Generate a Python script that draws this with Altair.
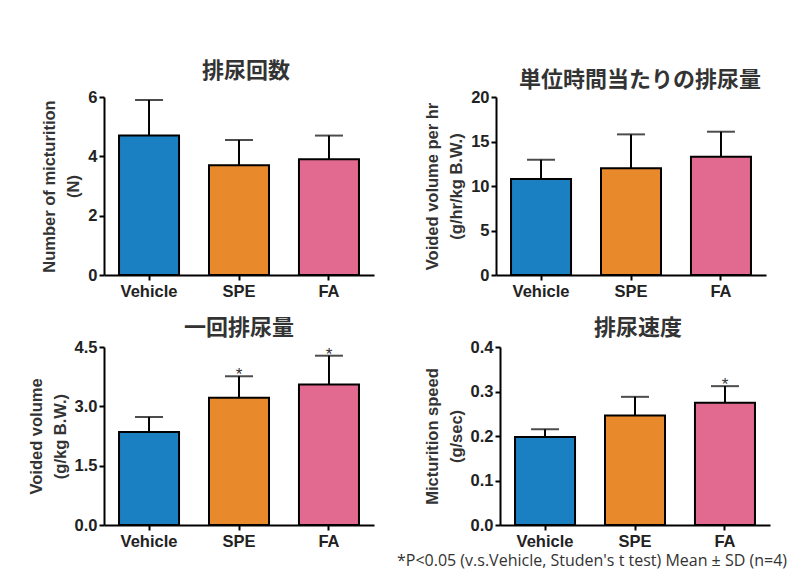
import altair as alt
import pandas as pd

groups = ["Vehicle", "SPE", "FA"]
colors = ["#1a80c2", "#e8892c", "#e2698f"]

count_mean = [4.7, 3.7, 3.9]
count_sd = [1.2, 0.85, 0.8]
rate_mean = [10.8, 12.0, 13.3]
rate_sd = [2.15, 3.8, 2.8]
vol_mean = [2.35, 3.22, 3.55]
vol_sd = [0.38, 0.54, 0.73]
speed_mean = [0.198, 0.246, 0.275]
speed_sd = [0.017, 0.042, 0.037]

count_sig = ["", "", ""]
rate_sig = ["", "", ""]
vol_sig = ["", "*", "*"]
speed_sig = ["", "", "*"]

footnote = "*P<0.05  (v.s.Vehicle, Studen's t test) Mean \u00b1 SD (n=4)"


def panel(title, mean, sd, sig, ytitle, ymax, ticks, fmt, tdy=0, tdx=0):
    df = pd.DataFrame({
        "group": groups,
        "mean": mean,
        "top": [m + s for m, s in zip(mean, sd)],
        "sig": sig,
    })
    x = alt.X("group:N", sort=groups,
              scale=alt.Scale(paddingInner=0.333, paddingOuter=0.167),
              axis=alt.Axis(
                  title=None, labelAngle=0, labelAlign="center", labelBaseline="top",
                  labelFont="Liberation Sans", labelFontWeight="bold",
                  labelFontSize=16.5, labelColor="#222", labelPadding=3,
                  domainColor="black", domainWidth=2, tickColor="black",
                  tickWidth=2, tickSize=5, bandPosition=0.5))
    yscale = alt.Scale(domain=[0, ymax], nice=False)
    yaxis = alt.Axis(
        title=ytitle, values=ticks, format=fmt, grid=False,
        labelFont="Liberation Sans", labelFontWeight="bold", labelFontSize=16.5,
        labelColor="#222", domainColor="black", domainWidth=2,
        tickColor="black", tickWidth=2, tickSize=5,
        titleFont="Liberation Sans", titleFontWeight="bold", titleFontSize=16.5,
        titleColor="#333", titleLineHeight=24, titlePadding=6,
    )
    base = alt.Chart(df)
    bars = base.mark_bar(stroke="black", strokeWidth=2).encode(
        x=x,
        y=alt.Y("mean:Q", scale=yscale, axis=yaxis),
        color=alt.Color("group:N", scale=alt.Scale(domain=groups, range=colors), legend=None),
    )
    rule = base.mark_rule(color="black", strokeWidth=2).encode(
        x=alt.X("group:N", sort=groups), y="mean:Q", y2="top:Q")
    cap = base.mark_tick(color="black", thickness=2, size=28).encode(
        x=alt.X("group:N", sort=groups), y="top:Q")
    star = base.mark_text(baseline="alphabetic", dy=4, fontSize=17, font="Liberation Sans",
                          color="#333").encode(
        x=alt.X("group:N", sort=groups), y="top:Q", text="sig:N")
    return alt.layer(bars, rule, cap, star).properties(
        width=270, height=178,
        title=alt.TitleParams(title, font="Noto Sans CJK JP", fontSize=22,
                              fontWeight="bold", color="#333", offset=2,
                              dy=tdy, dx=tdx),
    )


p1 = panel("排尿回数", count_mean, count_sd, count_sig,
           ["Number of micturition", "(N)"], 6, [0, 2, 4, 6], "d", tdy=-4, tdx=7)
p2 = panel("単位時間当たりの排尿量", rate_mean, rate_sd, rate_sig,
           ["Voided volume per hr", "(g/hr/kg B.W.)"], 20, [0, 5, 10, 15, 20], "d",
           tdy=5, tdx=9)
p3 = panel("一回排尿量", vol_mean, vol_sd, vol_sig,
           ["Voided volume", "(g/kg B.W.)"], 4.5, [0, 1.5, 3.0, 4.5], ".1f", tdy=3)
p4 = panel("排尿速度", speed_mean, speed_sd, speed_sig,
           ["Micturition speed", "(g/sec)"], 0.4, [0, 0.1, 0.2, 0.3, 0.4], ".1f",
           tdy=3, tdx=3)

row1 = alt.hconcat(p1, p2, spacing=50)
row2 = alt.hconcat(p3, p4, spacing=50)
chart = alt.vconcat(row1, row2, spacing=17).properties(
    padding={"left": 20, "top": 52, "right": 2, "bottom": 0},
    background="white",
    title=alt.TitleParams(footnote, orient="bottom", anchor="end", font="Open Sans",
                          fontSize=16, fontWeight="normal", color="#333",
                          offset=3, dx=17),
).configure_view(stroke=None)

chart.save("out.html", embed_options={"renderer": "svg", "actions": False})
